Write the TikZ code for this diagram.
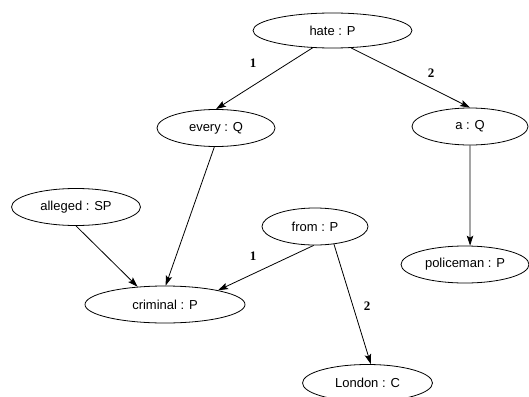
\documentclass[tikz,border=0pt]{standalone}
\usepackage{fontspec}
\setmainfont{Liberation Sans}
\newfontfamily\lblfont{Liberation Serif}
\usetikzlibrary{shapes.geometric,arrows.meta}
\tikzset{
  gnode/.style={ellipse,draw,line width=0.8pt,inner sep=0pt,minimum height=37pt,font=\fontsize{13}{15}\selectfont},
  glabel/.style={inner sep=0pt,font=\lblfont\bfseries\fontsize{13}{15}\selectfont},
}
\begin{document}
\begin{tikzpicture}[x=1pt,y=-1pt]
      \useasboundingbox (0,0) rectangle (529,396);
      \draw
        (332.5,30.5) node[gnode,minimum width=159pt,minimum height=35pt] (hate){hate : P}
        (216,128) node[gnode,minimum width=118pt] (every){every : Q}
        (470,126.5) node[gnode,minimum width=116pt] (aq){a : Q}
        (76,207) node[gnode,minimum width=129pt] (alleged){alleged : SP}
        (315,226.5) node[gnode,minimum width=106pt] (from){from : P}
        (165,304.5) node[gnode,minimum width=160pt] (criminal){criminal : P}
        (465,264.5) node[gnode,minimum width=128pt] (policeman){policeman : P}
        (367.5,383) node[gnode,minimum width=130pt] (london){London : C};
      \draw
        (253,63) node[glabel] (l1){1}
        (431,73) node[glabel] (l2){2}
        (253,256) node[glabel] (l3){1}
        (367,306) node[glabel] (l4){2};
      \begin{scope}[-{Stealth[length=10pt,width=6.5pt,inset=2pt]},line width=0.8pt]
        \draw (hate.221) to (every.north);
        \draw (hate.317) to (aq.north);
        \draw (every.265) to (criminal.88);
        \draw (alleged.south) to (criminal.147);
        \draw (from.266) to (criminal.15.6);
        \draw (from.317) to (london.80);
        \draw (aq.south) to (policeman.75);
      \end{scope}
    \end{tikzpicture}
\end{document}
